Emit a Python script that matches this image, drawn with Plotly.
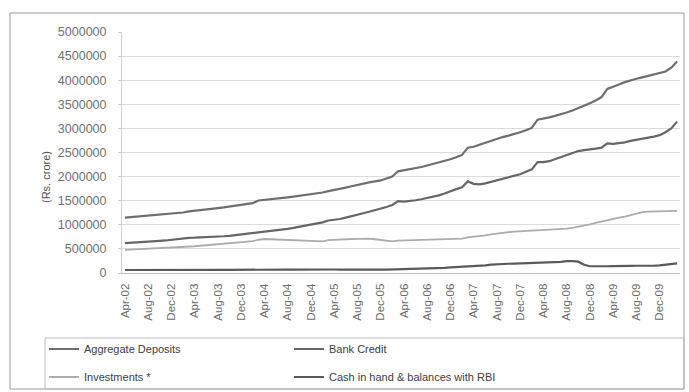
import plotly.graph_objects as go

# ---------------- data (Rs. crore, monthly Apr-02 .. Mar-10) ----------------
mon_abbr = ["Apr", "May", "Jun", "Jul", "Aug", "Sep", "Oct", "Nov", "Dec", "Jan", "Feb", "Mar"]
fiscal_years = [2, 3, 4, 5, 6, 7, 8, 9]

aggregate_deposits = [
    1150000, 1160000, 1170000, 1180000, 1190000, 1200000, 1215000, 1225000, 1235000, 1245000, 1255000, 1280000,
    1290000, 1300000, 1315000, 1330000, 1345000, 1360000, 1380000, 1395000, 1410000, 1430000, 1450000, 1505000,
    1515000, 1530000, 1545000, 1555000, 1570000, 1585000, 1600000, 1615000, 1630000, 1650000, 1670000, 1700000,
    1720000, 1745000, 1770000, 1800000, 1830000, 1860000, 1880000, 1900000, 1920000, 1960000, 2000000, 2110000,
    2130000, 2150000, 2170000, 2200000, 2230000, 2260000, 2290000, 2320000, 2360000, 2400000, 2450000, 2600000,
    2620000, 2660000, 2700000, 2740000, 2790000, 2820000, 2850000, 2880000, 2920000, 2960000, 3010000, 3180000,
    3200000, 3230000, 3260000, 3290000, 3330000, 3370000, 3420000, 3460000, 3520000, 3580000, 3650000, 3820000,
    3860000, 3910000, 3960000, 4000000, 4030000, 4060000, 4090000, 4110000, 4140000, 4180000, 4260000, 4390000,
]
bank_credit = [
    620000, 625000, 632000, 640000, 648000, 655000, 665000, 675000, 690000, 705000, 715000, 730000,
    732000, 735000, 742000, 748000, 755000, 762000, 772000, 785000, 800000, 815000, 830000, 850000,
    855000, 865000, 880000, 895000, 915000, 935000, 955000, 975000, 1000000, 1025000, 1050000, 1090000,
    1100000, 1120000, 1150000, 1175000, 1200000, 1240000, 1270000, 1300000, 1330000, 1370000, 1410000, 1490000,
    1480000, 1490000, 1510000, 1530000, 1555000, 1580000, 1610000, 1650000, 1700000, 1740000, 1780000, 1900000,
    1850000, 1840000, 1860000, 1890000, 1920000, 1950000, 1980000, 2010000, 2050000, 2100000, 2150000, 2300000,
    2300000, 2320000, 2360000, 2400000, 2450000, 2490000, 2530000, 2550000, 2560000, 2580000, 2600000, 2690000,
    2680000, 2690000, 2710000, 2740000, 2760000, 2780000, 2800000, 2830000, 2860000, 2920000, 3000000, 3140000,
]
investments = [
    480000, 485000, 490000, 495000, 500000, 505000, 510000, 515000, 520000, 525000, 530000, 545000,
    555000, 565000, 575000, 585000, 595000, 605000, 615000, 625000, 635000, 645000, 660000, 690000,
    705000, 700000, 695000, 690000, 685000, 680000, 675000, 670000, 665000, 660000, 655000, 680000,
    690000, 695000, 700000, 705000, 710000, 718000, 715000, 700000, 680000, 660000, 655000, 670000,
    675000, 680000, 680000, 685000, 685000, 690000, 690000, 695000, 700000, 705000, 715000, 740000,
    750000, 765000, 780000, 800000, 820000, 840000, 850000, 860000, 865000, 870000, 875000, 895000,
    900000, 905000, 910000, 915000, 920000, 935000, 955000, 980000, 1010000, 1040000, 1070000, 1100000,
    1130000, 1150000, 1170000, 1200000, 1240000, 1265000, 1275000, 1280000, 1280000, 1285000, 1285000, 1290000,
]
cash_rbi = [
    62000, 63000, 64000, 65000, 63000, 64000, 66000, 65000, 64000, 63000, 65000, 66000,
    62000, 64000, 65000, 63000, 64000, 66000, 65000, 67000, 66000, 65000, 67000, 70000,
    72000, 73000, 75000, 74000, 72000, 71000, 73000, 72000, 70000, 71000, 72000, 74000,
    73000, 72000, 70000, 68000, 66000, 65000, 66000, 68000, 70000, 72000, 74000, 78000,
    80000, 82000, 85000, 88000, 92000, 96000, 100000, 108000, 115000, 120000, 125000, 130000,
    135000, 145000, 160000, 175000, 185000, 190000, 192000, 195000, 198000, 200000, 205000, 212000,
    215000, 218000, 222000, 232000, 245000, 248000, 235000, 170000, 140000, 135000, 138000, 140000,
    142000, 140000, 145000, 148000, 150000, 147000, 145000, 150000, 158000, 170000, 185000, 200000,
]

# month labels like "Apr-02"
months = []
for fy in fiscal_years:
    for k, m in enumerate(mon_abbr):
        yr = fy if k < 9 else fy + 1
        months.append(f"{m}-{yr:02d}")
tick_every = 4
y_ticks = [0, 500000, 1000000, 1500000, 2000000, 2500000, 3000000, 3500000, 4000000, 4500000, 5000000]

# ---------------- layout geometry ----------------
W, H = 689, 392
L, R, T, B = 122, 9, 32, 119
PW, PH = W - L - R, H - T - B


def px_x(px):
    return (px - L) / PW


def px_y(py):
    return (H - B - py) / PH


FONT = "Liberation Sans, Arial"
idx = list(range(len(months)))

fig = go.Figure()
series = [
    ("Aggregate Deposits", aggregate_deposits, "#6e6e6e", 2.2, "legend"),
    ("Bank Credit", bank_credit, "#666666", 2.2, "legend"),
    ("Investments *", investments, "#acacac", 1.8, "legend2"),
    ("Cash in hand & balances with RBI", cash_rbi, "#5a5a5a", 2.2, "legend2"),
]
for name, vals, col, w, lg in series:
    fig.add_trace(go.Scatter(
        x=idx, y=vals, mode="lines", name=name,
        line=dict(color=col, width=w), legend=lg,
    ))

legend_common = dict(
    orientation="h", xanchor="left", yanchor="middle",
    entrywidth=200, entrywidthmode="pixels", itemwidth=30,
    font=dict(size=11, color="#404040", family=FONT), bgcolor="rgba(0,0,0,0)",
)

fig.update_layout(
    width=W, height=H,
    margin=dict(l=L, r=R, t=T, b=B, autoexpand=False),
    paper_bgcolor="white", plot_bgcolor="white",
    font=dict(family=FONT, color="#606060"),
    showlegend=True,
    legend=dict(x=px_x(44), y=px_y(349), **legend_common),
    legend2=dict(x=px_x(44), y=px_y(377), **legend_common),
    xaxis=dict(
        range=[-0.5, len(months) - 0.5],
        tickmode="array",
        tickvals=idx[::tick_every],
        ticktext=months[::tick_every],
        tickangle=-90,
        tickfont=dict(size=11.5, color="#6a6a6a", family=FONT),
        showgrid=False, showline=True, linecolor="#bdbdbd", linewidth=1,
        ticks="", zeroline=False, ticklabelstandoff=5,
    ),
    yaxis=dict(
        range=[0, 5000000],
        tickmode="array", tickvals=y_ticks, ticktext=[str(v) for v in y_ticks],
        tickfont=dict(size=12.5, color="#6f6f6f", family=FONT),
        showgrid=True, gridcolor="#dcdcdc", gridwidth=1,
        showline=True, linecolor="#d0d0d0", zeroline=False,
        ticks="outside", ticklen=3, tickcolor="#c8c8c8",
        ticklabelstandoff=9,
    ),
    annotations=[dict(
        text="(Rs. crore)", textangle=-90, xref="paper", yref="paper",
        x=px_x(38), y=px_y(177), showarrow=False,
        font=dict(size=11, color="#505050", family=FONT),
    )],
    shapes=[
        dict(type="rect", xref="paper", yref="paper",
             x0=px_x(10), x1=px_x(684), y0=px_y(389), y1=px_y(13),
             line=dict(color="#9a9a9a", width=1), layer="below"),
        dict(type="rect", xref="paper", yref="paper",
             x0=px_x(45), x1=px_x(684), y0=px_y(389), y1=px_y(338),
             line=dict(color="#bcbcbc", width=1), layer="below"),
    ],
)

fig.write_html("out.html")
